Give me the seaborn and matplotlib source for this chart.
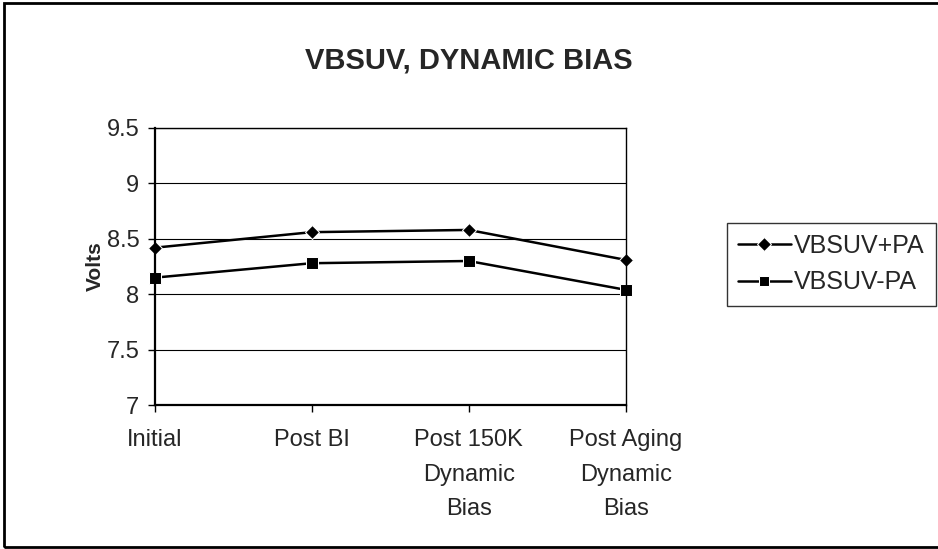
import numpy as np
import pandas as pd
import seaborn as sns
import matplotlib.pyplot as plt
from matplotlib.patches import Rectangle

stages = ["Initial", "Post BI", "Post 150K\nDynamic\nBias", "Post Aging\nDynamic\nBias"]
plus_pa = [8.42, 8.56, 8.58, 8.31]
minus_pa = [8.15, 8.28, 8.30, 8.04]

df = pd.DataFrame({
    "stage": list(range(len(stages))) * 2,
    "volts": plus_pa + minus_pa,
    "series": ["VBSUV+PA"] * 4 + ["VBSUV-PA"] * 4,
})

sns.set_style("white")
plt.rcParams['font.family'] = ['Liberation Sans', 'DejaVu Sans']

fig = plt.figure(figsize=(9.38, 5.49), dpi=100)
ax = fig.add_axes([0.165, 0.262, 0.502, 0.505])

sns.lineplot(data=df, x="stage", y="volts", hue="series", style="series",
             palette=["black", "black"], markers={"VBSUV+PA": "D", "VBSUV-PA": "s"},
             dashes=False, markersize=8, linewidth=1.8, ax=ax)
for line, ms in zip(ax.lines, [7, 9]):
    line.set_markersize(ms)
    line.set_clip_on(False)

ax.set_xlim(0, 3)
ax.set_ylim(7, 9.5)
ax.set_yticks([7, 7.5, 8, 8.5, 9, 9.5])
ax.set_yticklabels(["7", "7.5", "8", "8.5", "9", "9.5"], fontsize=17)
ax.set_xticks(range(len(stages)))
ax.set_xticklabels(stages, fontsize=17, linespacing=1.75)
ax.grid(axis="y", color="black", linewidth=0.8)
ax.tick_params(axis="both", direction="out", length=5, width=1, color="black",
               bottom=True, left=True, pad=6)
ax.tick_params(axis="x", pad=12)
for side in ax.spines.values():
    side.set_color("black")
    side.set_linewidth(1.0)
ax.spines["left"].set_linewidth(1.6)
ax.spines["bottom"].set_linewidth(1.6)

ax.set_xlabel("")
ax.set_ylabel("Volts", fontsize=15, fontweight="bold")
ax.yaxis.set_label_coords(-0.105, 0.5)

leg = ax.legend(loc="upper left", bbox_to_anchor=(1.215, 0.658), fontsize=18,
                frameon=True, fancybox=False, edgecolor="black",
                handlelength=2.1, handletextpad=0.15, borderpad=0.45, labelspacing=0.5,
                borderaxespad=0)
leg.get_frame().set_linewidth(1.0)
for h in leg.legend_handles:
    h.set_markersize(7)

fig.text(0.5, 0.89, "VBSUV, DYNAMIC BIAS", ha="center", va="center",
         fontsize=21, fontweight="bold")

fig.patches.append(Rectangle((0.004, 0.004), 1.2, 0.99, transform=fig.transFigure,
                             fill=False, edgecolor="black", linewidth=2))

fig.savefig("out.png", dpi=100)
